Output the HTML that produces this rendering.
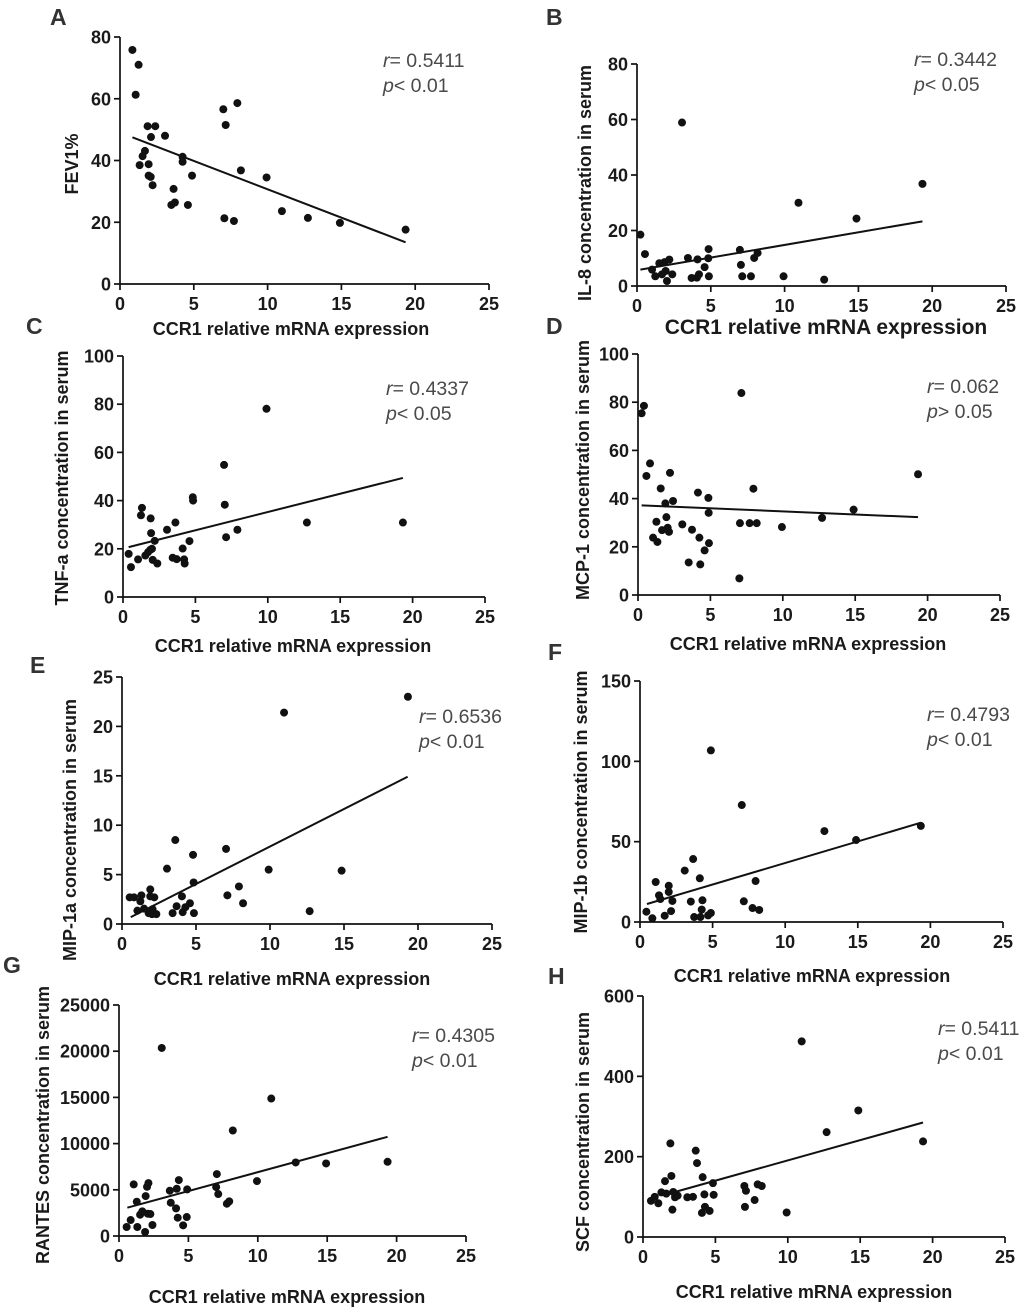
<!DOCTYPE html>
<html><head><meta charset="utf-8"><style>
html,body{margin:0;padding:0;background:#fff}
svg{display:block}
text{font-family:"Liberation Sans",Arial,sans-serif}
.tick{font-weight:bold;font-size:18px;fill:#1a1a1a}
.ttl{font-weight:bold;font-size:18px;fill:#1a1a1a}
.stat{font-size:19.5px;fill:#4a4a4a}
.let{font-weight:bold;font-size:23px;fill:#333}
</style></head><body>
<svg id="fig" width="1020" height="1311" viewBox="0 0 1020 1311" xmlns="http://www.w3.org/2000/svg"></svg>
<script>
// ---- data (x = CCR1 relative mRNA expression) ----
const aX=[0.84,1.26,1.06,1.87,2.39,2.1,3.05,1.69,1.53,1.33,1.94,1.94,2.08,2.21,3.63,3.48,3.72,4.6,4.24,4.24,4.88,7.0,7.16,7.95,8.19,7.07,7.72,9.93,10.97,12.73,14.9,19.35];
const aY=[75.8,71,61.3,51.1,51.1,47.6,48,43.1,41.4,38.5,38.8,35.1,34.7,32,30.8,25.6,26.4,25.6,41.2,39.6,35.1,56.6,51.5,58.6,36.8,21.3,20.4,34.5,23.6,21.4,19.8,17.6];
const aLine=[[0.84,19.35],[47.5,13.5]];
const bX=[0.23,0.54,1.02,1.24,1.51,1.69,1.87,2.19,1.94,2.03,2.39,3.05,3.45,3.7,4.1,4.2,4.06,4.58,4.85,4.83,4.87,6.97,7.04,7.13,7.72,7.94,8.17,9.93,10.94,12.68,14.87,19.34];
const bY=[18.5,11.5,5.9,3.5,8.2,4.2,8.6,9.5,5.4,1.8,4.2,58.9,10.1,2.9,9.6,4.2,3.0,6.8,13.3,10,3.5,13,7.6,3.5,3.5,10.1,11.9,3.5,30,2.3,24.3,36.8];
const bLine=[[0.23,19.34],[5.9,23.3]];
const cX=[0.39,0.55,1.04,1.31,1.24,1.54,1.73,1.91,1.94,2.0,1.89,2.05,2.19,2.37,3.04,3.62,3.43,3.71,4.12,4.22,4.26,4.59,4.82,4.84,6.98,7.03,7.12,7.9,9.91,12.7,19.33];
const cY=[17.9,12.4,15.6,37,33.9,17.2,18.6,32.6,26.5,20,19.6,15.4,23.3,13.9,27.9,30.9,16.3,15.7,20.1,15.6,13.9,23.2,41.4,40,54.8,38.3,24.8,27.9,78.1,30.9,30.9];
const cLine=[[0.39,19.33],[20.7,49.4]];
const dX=[0.25,0.41,0.83,0.58,1.57,2.21,2.42,1.89,1.96,1.27,1.04,1.34,1.66,2.05,2.14,3.06,3.5,3.73,4.14,4.24,4.3,4.6,4.86,4.88,4.9,7.14,7.04,7.0,7.71,8.2,7.97,9.94,12.71,14.89,19.34];
const dY=[75.4,78.5,54.6,49.4,44.2,50.7,39,38,32.3,30.4,23.8,22,26.9,27.9,26.2,29.3,13.5,27.1,42.5,23.8,12.7,18.5,40.3,34.1,21.5,83.8,29.8,6.9,29.8,29.8,44.1,28.2,32,35.4,50.1];
const dLine=[[0.25,19.34],[37.2,32.3]];
const eX=[0.52,0.81,1.04,1.31,1.24,1.49,1.91,1.91,2.18,1.8,2.03,2.32,2.07,3.04,3.6,3.42,3.69,4.05,4.1,4.28,4.59,4.8,4.84,4.86,7.03,7.12,7.9,8.18,9.91,10.95,12.68,14.84,19.32];
const eY=[2.7,2.7,1.35,2.9,2.3,1.55,3.5,2.8,2.7,1.1,1.0,1.0,1.5,5.6,8.5,1.1,1.8,2.8,1.2,1.7,2.1,7.0,4.2,1.1,7.6,2.9,3.8,2.1,5.5,21.4,1.3,5.4,23.0];
const eLine=[[0.59,19.3],[0.7,14.9]];
const fX=[0.44,0.85,1.08,1.31,1.4,1.7,1.98,1.98,2.14,2.23,3.08,3.5,3.66,3.73,4.12,4.16,4.25,4.3,4.69,4.88,4.88,7.01,7.15,7.75,7.96,8.21,12.7,14.88,19.34];
const fY=[6.4,2.3,24.9,16.6,14.3,3.9,22.6,18.7,6.8,13.1,32,12.7,39.2,3.1,27.2,3.1,7.7,13.5,4.1,5.6,106.8,72.8,12.9,8.7,25.5,7.5,56.6,51,59.8];
const fLine=[[0.48,19.34],[11.2,61.8]];
const gX=[0.55,0.84,1.06,1.28,1.32,1.52,1.68,1.88,1.92,2.02,2.12,2.07,2.26,2.41,3.08,3.66,3.73,4.11,4.16,4.23,4.31,4.62,4.88,4.91,7.05,7.0,7.15,7.77,7.94,8.2,9.94,10.97,12.73,14.92,19.35];
const gY=[973,1729,5583,3710,973,2305,2665,432,4322,5331,5727,2413,2377,1189,20351,4899,3602,2990,5115,1981,6051,1153,2053,5043,6700,5295,4539,3494,3746,11419,5943,14877,7960,7852,8032];
const gLine=[[0.6,19.35],[3062,10734]];
const hX=[0.55,0.81,1.06,1.27,1.52,1.61,1.89,1.96,2.03,2.09,2.21,2.39,3.06,3.45,3.64,3.73,4.12,4.07,4.24,4.28,4.6,4.83,4.88,7.0,7.11,7.04,7.71,7.92,8.2,9.92,10.96,12.68,14.87,19.34];
const hY=[90,100,84,111,139,108,233,152,68,112,99,103,99,100,215,184,149,60,106,75,65,134,105,127,115,75,92,131,127,61,487,261,315,238];
const hLine=[[1.8,19.34],[108,285]];
const xTicks=[0,5,10,15,20,25];

const NS="http://www.w3.org/2000/svg";
const svg=document.getElementById('fig');
function mk(tag,attrs,parent){const e=document.createElementNS(NS,tag);for(const k in attrs)e.setAttribute(k,attrs[k]);(parent||svg).appendChild(e);return e;}

const panels=[
 {id:'a',L:'A',lx:50,ly:25,x0:120,x1:489,y0:284,y1:37,ymax:80,yt:[0,20,40,60,80],X:aX,Y:aY,line:aLine,yl:'FEV1%',ylx:78,yly:164,xlx:291,xly:335,xfs:18,sx:383,sy:67,r:'0.5411',p:'< 0.01'},
 {id:'b',L:'B',lx:546,ly:25,x0:637,x1:1006,y0:286,y1:64,ymax:80,yt:[0,20,40,60,80],X:bX,Y:bY,line:bLine,yl:'IL-8 concentration in serum',ylx:591,yly:183,xlx:826,xly:334,xfs:21,sx:914,sy:66,r:'0.3442',p:'< 0.05'},
 {id:'c',L:'C',lx:26,ly:334,x0:123,x1:485,y0:597,y1:356,ymax:100,yt:[0,20,40,60,80,100],X:cX,Y:cY,line:cLine,yl:'TNF-a concentration in serum',ylx:68,yly:478,xlx:293,xly:652,xfs:18,sx:386,sy:395,r:'0.4337',p:'< 0.05'},
 {id:'d',L:'D',lx:546,ly:334,x0:638,x1:1000,y0:595,y1:354,ymax:100,yt:[0,20,40,60,80,100],X:dX,Y:dY,line:dLine,yl:'MCP-1 concentration in serum',ylx:589,yly:470,xlx:808,xly:650,xfs:18,sx:927,sy:393,r:'0.062',p:'> 0.05'},
 {id:'e',L:'E',lx:30,ly:673,x0:122,x1:492,y0:924,y1:677,ymax:25,yt:[0,5,10,15,20,25],X:eX,Y:eY,line:eLine,yl:'MIP-1a concentration in serum',ylx:76,yly:830,xlx:292,xly:985,xfs:18,sx:419,sy:723,r:'0.6536',p:'< 0.01'},
 {id:'f',L:'F',lx:548,ly:660,x0:640,x1:1003,y0:922,y1:681,ymax:150,yt:[0,50,100,150],X:fX,Y:fY,line:fLine,yl:'MIP-1b concentration in serum',ylx:587,yly:802,xlx:812,xly:982,xfs:18,sx:927,sy:721,r:'0.4793',p:'< 0.01'},
 {id:'g',L:'G',lx:3,ly:973,x0:119,x1:466,y0:1236,y1:1005,ymax:25000,yt:[0,5000,10000,15000,20000,25000],X:gX,Y:gY,line:gLine,yl:'RANTES concentration in serum',ylx:49,yly:1125,xlx:287,xly:1303,xfs:18,sx:412,sy:1042,r:'0.4305',p:'< 0.01'},
 {id:'h',L:'H',lx:548,ly:984,x0:643,x1:1005,y0:1237,y1:996,ymax:600,yt:[0,200,400,600],X:hX,Y:hY,line:hLine,yl:'SCF concentration in serum',ylx:589,yly:1132,xlx:814,xly:1298,xfs:18,sx:938,sy:1035,r:'0.5411',p:'< 0.01'}
];

panels.forEach(P=>{
 const g=mk('g',{});
 
 
 const sx=v=>P.x0+v/25*(P.x1-P.x0);
 const sy=v=>P.y0-v/P.ymax*(P.y0-P.y1);
 const lt=mk('text',{x:P.lx,y:P.ly,class:'let'},g);lt.textContent=P.L;
 
 
 const ya=mk('line',{x1:P.x0,y1:P.y0,x2:P.x0,y2:P.y1,stroke:'#111','stroke-width':1.7},g);
 
 
 const xa=mk('line',{x1:P.x0,y1:P.y0,x2:P.x1,y2:P.y0,stroke:'#111','stroke-width':1.7},g);
 
 
 xTicks.forEach(t=>{
  const x=sx(t);
  mk('line',{x1:x,y1:P.y0,x2:x,y2:P.y0+6,stroke:'#111','stroke-width':1.7},g);
  const tx=mk('text',{x:x,y:P.y0+26,'text-anchor':'middle',class:'tick'},g);tx.textContent=t;
  
  
 });
 P.yt.forEach(t=>{
  const y=sy(t);
  mk('line',{x1:P.x0-6,y1:y,x2:P.x0,y2:y,stroke:'#111','stroke-width':1.7},g);
  const tx=mk('text',{x:P.x0-9,y:y+6.5,'text-anchor':'end',class:'tick'},g);tx.textContent=t;
  
  
 });
 P.X.forEach((xv,i)=>{
  const c=mk('circle',{cx:sx(xv),cy:sy(P.Y[i]),r:4,fill:'#111'},g);
  
  
 });
 const rl=mk('line',{x1:sx(P.line[0][0]),y1:sy(P.line[1][0]),x2:sx(P.line[0][1]),y2:sy(P.line[1][1]),stroke:'#111','stroke-width':2},g);
 
 
 const xt=mk('text',{x:P.xlx,y:P.xly,'text-anchor':'middle',class:'ttl'},g);
 xt.style.fontSize=P.xfs+'px';
 xt.textContent='CCR1 relative mRNA expression';
 
 
 const yt=mk('text',{x:0,y:0,'text-anchor':'middle',class:'ttl',transform:`translate(${P.ylx},${P.yly}) rotate(-90)`},g);
 yt.textContent=P.yl;
 
 
 const s1=mk('text',{x:P.sx,y:P.sy,class:'stat'},g);
 s1.innerHTML='<tspan font-style="italic">r</tspan>= '+P.r;
 
 
 const s2=mk('text',{x:P.sx,y:P.sy+25,class:'stat'},g);
 s2.innerHTML='<tspan font-style="italic">p</tspan>'+P.p.replace('<','&lt;');
 
 
});
</script>
</body></html>
